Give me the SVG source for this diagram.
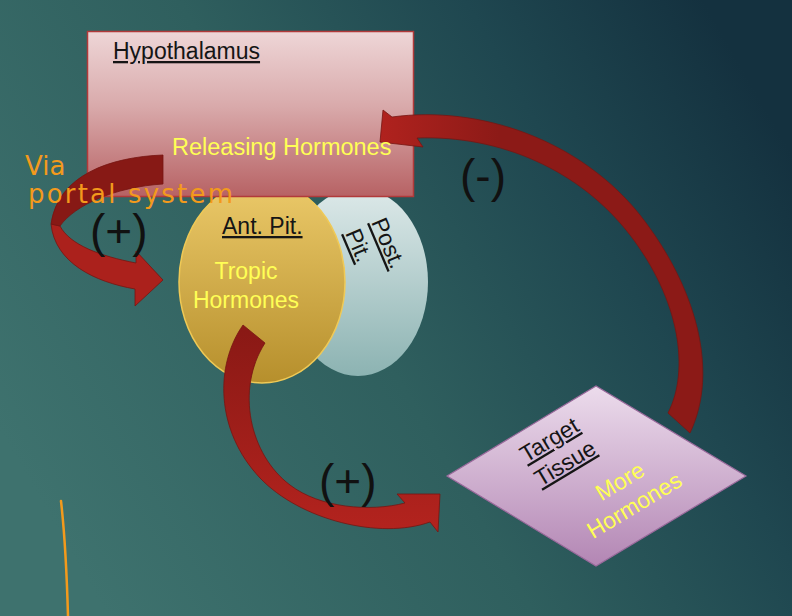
<svg xmlns="http://www.w3.org/2000/svg" width="792" height="616" viewBox="0 0 792 616">
  <defs>
    <linearGradient id="bg" x1="0" y1="0.7" x2="1" y2="0.25">
      <stop offset="0" stop-color="#3e726e"/>
      <stop offset="0.45" stop-color="#2f5f5e"/>
      <stop offset="0.75" stop-color="#1f4750"/>
      <stop offset="1" stop-color="#14313f"/>
    </linearGradient>
    <linearGradient id="gRect" x1="0" y1="0" x2="0" y2="1">
      <stop offset="0" stop-color="#eed6d7"/>
      <stop offset="0.45" stop-color="#d9aaab"/>
      <stop offset="1" stop-color="#b76264"/>
    </linearGradient>
    <linearGradient id="gAnt" x1="0" y1="0" x2="0" y2="1">
      <stop offset="0" stop-color="#ecca6a"/>
      <stop offset="1" stop-color="#b68f2c"/>
    </linearGradient>
    <linearGradient id="gPost" x1="0" y1="0" x2="0" y2="1">
      <stop offset="0" stop-color="#dde9e9"/>
      <stop offset="1" stop-color="#8cb3b2"/>
    </linearGradient>
    <linearGradient id="gDia" x1="0" y1="0" x2="0" y2="1">
      <stop offset="0" stop-color="#ecdcec"/>
      <stop offset="1" stop-color="#b386b4"/>
    </linearGradient>
    <linearGradient id="gArr2" gradientUnits="userSpaceOnUse" x1="0" y1="330" x2="0" y2="530">
      <stop offset="0" stop-color="#8a1915"/>
      <stop offset="1" stop-color="#b3231e"/>
    </linearGradient>
    <linearGradient id="gArr3" gradientUnits="userSpaceOnUse" x1="380" y1="0" x2="500" y2="0">
      <stop offset="0" stop-color="#b0221e"/>
      <stop offset="1" stop-color="#8c1a17"/>
    </linearGradient>
    <style>
      .lbl { font-family: "Liberation Sans", Arial, sans-serif; fill: #151515; text-decoration: underline; }
      .yel { font-family: "Liberation Sans", Arial, sans-serif; fill: #ffff55; }
      .sign { font-family: "Liberation Sans", Arial, sans-serif; font-size: 46px; fill: #111111; }
      .arrow { stroke: #761512; stroke-width: 0.8; }
      .ink { font-family: "DejaVu Sans", sans-serif; font-size: 26px; fill: #f39a1c; }
    </style>
  </defs>

  <rect x="0" y="0" width="792" height="616" fill="url(#bg)"/>

  <g id="post-pit">
    <ellipse cx="358" cy="282" rx="70" ry="94" fill="url(#gPost)"/>
    <text class="lbl" font-size="23" transform="translate(371,222) rotate(67)">Post.</text>
    <text class="lbl" font-size="23" transform="translate(345,233) rotate(67)">Pit.</text>
  </g>

  <g id="ant-pit">
    <ellipse cx="262" cy="282" rx="83" ry="101" fill="url(#gAnt)" stroke="#efc956" stroke-width="1.5"/>
    <text class="lbl" font-size="23" x="222" y="234">Ant. Pit.</text>
    <text class="yel" font-size="23" x="246" y="279" text-anchor="middle">Tropic</text>
    <text class="yel" font-size="23" x="246" y="308" text-anchor="middle">Hormones</text>
  </g>

  <g id="hypothalamus">
    <rect x="87.5" y="31.5" width="326" height="165" fill="url(#gRect)" stroke="#b13a3a" stroke-width="1.5"/>
    <text class="lbl" font-size="23" x="113" y="59">Hypothalamus</text>
  </g>

  <g id="target-tissue">
    <polygon points="447,476 596,386 746,476 596,566" fill="url(#gDia)" stroke="#9a6a9c" stroke-width="1.2"/>
    <g transform="translate(526,463) rotate(-31)">
      <text class="lbl" font-size="23" x="0" y="0">Target</text>
      <text class="lbl" font-size="23" x="0" y="28">Tissue</text>
    </g>
    <g transform="translate(624,488) rotate(-31)">
      <text class="yel" font-size="23" x="0" y="0" text-anchor="middle">More</text>
      <text class="yel" font-size="23" x="0" y="28" text-anchor="middle">Hormones</text>
    </g>
  </g>

  <g id="connectors">
    <!-- Hypothalamus -> Ant. Pit. (via portal system) -->
    <path class="arrow" fill="#ab211c" d="M 60 226 C 70 245 100 256 136 263 L 136 251 L 163 280 L 135 306 L 135 289 C 95 282 55 263 51 224 Z"/>
    <path class="arrow" fill="#871915" d="M 163 155 C 110 157 58 175 51 224 L 60 226 C 75 205 115 187 163 184 Z"/>
    <!-- Ant. Pit. -> Target Tissue -->
    <path class="arrow" fill="url(#gArr2)" d="M 243 325 C 215 365 215 430 260 478 C 300 520 380 540 430 522 L 438 532 L 440 494 L 397 494 L 405 503 C 370 512 320 508 290 485 C 250 455 235 390 265 343 Z"/>
    <!-- Target Tissue -> Hypothalamus (negative feedback) -->
    <path class="arrow" fill="url(#gArr3)" d="M 668 413 C 690 370 680 300 630 235 C 580 170 500 135 417 138 L 423 147 L 380 142 L 383 110 L 392 117 C 480 105 580 140 640 215 C 695 285 720 370 690 433 Z"/>
  </g>

  <g id="labels">
    <text class="yel" font-size="23.5" x="172" y="155">Releasing Hormones</text>
    <text class="sign" x="90" y="247">(+)</text>
    <text class="sign" x="319" y="497">(+)</text>
    <text class="sign" x="460" y="192">(-)</text>
  </g>

  <g id="annotation">
    <text class="ink" x="25" y="175">Via</text>
    <text class="ink" x="28" y="203" textLength="205" lengthAdjust="spacing">portal system</text>
    <path d="M 61 501 Q 66 545 68 616" fill="none" stroke="#f39a1c" stroke-width="2.5" stroke-linecap="round"/>
  </g>
</svg>
